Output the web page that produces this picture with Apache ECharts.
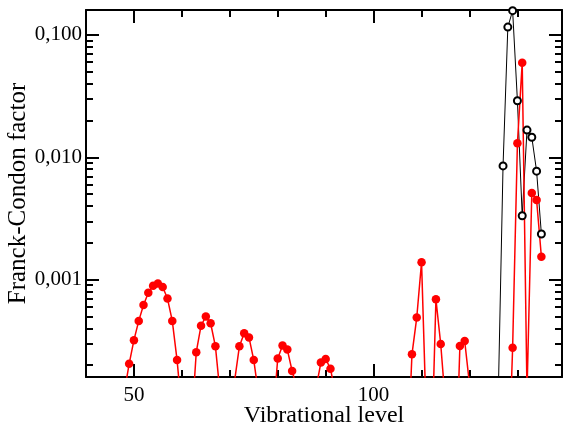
<!DOCTYPE html>
<html>
<head>
<meta charset="utf-8">
<style>
html,body{margin:0;padding:0;background:#fff;}
#chart{width:564px;height:428px;}
</style>
<script src="https://cdn.jsdelivr.net/npm/echarts@6/dist/echarts.min.js"></script>
</head>
<body>
<div id="chart"></div>
<script>
// ---- data ----
const redStartLevel = 48;
const redValues = [
  1.2e-4, 2.05e-4, 3.2e-4, 4.6e-4, 6.2e-4, 7.8e-4, 8.9e-4, 9.3e-4, 8.7e-4, 7.0e-4,
  4.6e-4, 2.2e-4, 8.2e-5, 3e-5, 6.3e-5, 2.55e-4, 4.2e-4, 5.0e-4, 4.4e-4, 2.85e-4,
  1.14e-4, 3e-5, 3e-5, 1.49e-4, 2.85e-4, 3.65e-4, 3.37e-4, 2.2e-4, 1.15e-4, 3e-5,
  3e-5, 7.3e-5, 2.27e-4, 2.9e-4, 2.68e-4, 1.79e-4, 1.3e-4, 3e-5, 3e-5, 3e-5,
  1.3e-4, 2.1e-4, 2.25e-4, 1.87e-4, 1.18e-4, 1e-5, 1e-5, 1e-5, 1e-5, 1e-5,
  1e-5, 1e-5, 1e-5, 1e-5, 1e-5, 1e-5, 1e-5, 1e-5, 1e-5, 3e-5,
  2.45e-4, 4.9e-4, 1.39e-3, 7e-5, 2.7e-5, 6.9e-4, 2.98e-4, 9.4e-5, 3e-5, 1.75e-5,
  2.87e-4, 3.15e-4, 1.4e-4, 1e-5, 1e-5, 1e-5, 1e-5, 1e-5, 1e-5, 1e-5,
  1.9e-5, 2.77e-4, 1.3e-2, 5.94e-2, 1.2e-4, 5.1e-3, 4.48e-3, 1.54e-3
];
const blackStartLevel = 126;
const blackValues = [1.1e-4, 8.5e-3, 0.116, 0.158, 0.029, 3.33e-3, 0.0167, 0.0146, 7.7e-3, 2.36e-3];

const xMajorTicks = [50, 100];
const xMajorLabels = ['50', '100'];
const xMinorTicks = [60, 70, 80, 90, 110, 120, 130];
const yMajorTicks = [0.001, 0.01, 0.1];
const yMajorLabels = ['0,001', '0,010', '0,100'];
const yMinorTicks = [
  0.0002, 0.0003, 0.0004, 0.0005, 0.0006, 0.0007, 0.0008, 0.0009,
  0.002, 0.003, 0.004, 0.005, 0.006, 0.007, 0.008, 0.009,
  0.02, 0.03, 0.04, 0.05, 0.06, 0.07, 0.08, 0.09
];
const xRange = [40, 139.3];
const yRange = [1.6e-4, 0.16];

// ---- build ----
const redData = redValues.map((v, i) => [redStartLevel + i, v]);
const blackData = blackValues.map((v, i) => [blackStartLevel + i, v]);

const FONT = '"Liberation Serif", "DejaVu Serif", serif';
const lineStyle = { color: '#000', width: 2 };

function xAxisDef(position, major, showLine, showLabel) {
  return {
    type: 'value', position: position, min: xRange[0], max: xRange[1],
    axisLine: { show: showLine, onZero: false, lineStyle: lineStyle },
    axisTick: { show: true, inside: true, length: major ? 13 : 7,
      customValues: major ? xMajorTicks : xMinorTicks,
      lineStyle: { color: '#000', width: 2 } },
    axisLabel: { show: showLabel, customValues: xMajorTicks, margin: 8,
      fontFamily: FONT, fontSize: 21, color: '#000',
      formatter: v => { const i = xMajorTicks.indexOf(v); return i >= 0 ? xMajorLabels[i] : ''; } },
    splitLine: { show: false }
  };
}
function yAxisDef(position, major, showLine, showLabel) {
  return {
    type: 'log', logBase: 10, position: position, min: yRange[0], max: yRange[1],
    axisLine: { show: showLine, onZero: false, lineStyle: lineStyle },
    axisTick: { show: true, inside: true, length: major ? 13 : 7,
      customValues: major ? yMajorTicks : yMinorTicks,
      lineStyle: { color: '#000', width: 2 } },
    axisLabel: { show: showLabel, customValues: yMajorTicks, margin: 4,
      fontFamily: FONT, fontSize: 21, color: '#000',
      formatter: v => {
        let best = -1, bd = 1e9;
        yMajorTicks.forEach((t, i) => { const d = Math.abs(Math.log10(t) - Math.log10(v)); if (d < bd) { bd = d; best = i; } });
        return bd < 0.01 ? yMajorLabels[best] : '';
      } },
    splitLine: { show: false }
  };
}

const xAxes = [
  xAxisDef('bottom', true, true, true),
  xAxisDef('bottom', false, false, false),
  xAxisDef('top', true, true, false),
  xAxisDef('top', false, false, false)
];
xAxes[0].name = 'Vibrational level';
xAxes[0].nameLocation = 'middle';
xAxes[0].nameGap = 27;
xAxes[0].nameMoveOverlap = false;
xAxes[0].nameTextStyle = { fontFamily: FONT, fontSize: 24, color: '#000' };

const yAxes = [
  yAxisDef('left', true, true, true),
  yAxisDef('left', false, false, false),
  yAxisDef('right', true, true, false),
  yAxisDef('right', false, false, false)
];
yAxes[0].name = 'Franck-Condon factor';
yAxes[0].nameLocation = 'middle';
yAxes[0].nameGap = 55;
yAxes[0].nameMoveOverlap = false;
yAxes[0].nameTextStyle = { fontFamily: FONT, fontSize: 25, color: '#000' };

const chart = echarts.init(document.getElementById('chart'), null, { renderer: 'canvas' });
chart.setOption({
  animation: false,
  backgroundColor: '#fff',
  grid: { left: 86, right: 2, top: 10, bottom: 51, containLabel: false, outerBoundsMode: 'none' },
  xAxis: xAxes,
  yAxis: yAxes,
  series: [
    {
      type: 'line', name: 'black', data: blackData, xAxisIndex: 0, yAxisIndex: 0,
      symbol: 'emptyCircle', symbolSize: 7, showAllSymbol: true, clip: true,
      itemStyle: { color: '#000', borderColor: '#000', borderWidth: 1 },
      lineStyle: { color: '#000', width: 1 }
    },
    {
      type: 'line', name: 'red', data: redData, xAxisIndex: 0, yAxisIndex: 0,
      symbol: 'circle', symbolSize: 8.5, showAllSymbol: true, clip: true,
      itemStyle: { color: '#ff0000' },
      lineStyle: { color: '#ff0000', width: 1.5 }
    }
  ]
});
</script>
</body>
</html>
